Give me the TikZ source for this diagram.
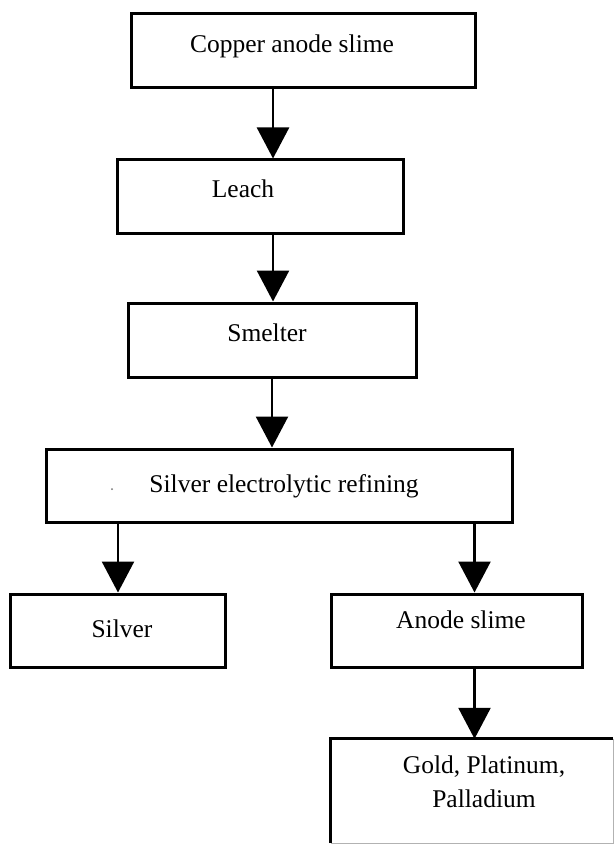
\documentclass[tikz,border=0pt]{standalone}
\usepackage{fontspec}
\setmainfont{Liberation Serif}
\usetikzlibrary{arrows.meta}
\begin{document}
\begin{tikzpicture}[x=1pt,y=-1pt,
  stepbox/.style={draw=black,line width=3pt,rectangle,inner sep=0pt},
  plainbox/.style={rectangle,inner sep=0pt},
  lbl/.style={anchor=base,inner sep=0pt,font=\fontsize{25.5}{30}\selectfont},
  flow/.style={line width=2.5pt,-{Triangle[length=31pt,width=32pt]}}]

\useasboundingbox[fill=white] (0,0) rectangle (615,845);

% process boxes
\node[stepbox,minimum width=344pt,minimum height=74pt] (slime) at (303,51) {};
\node[stepbox,minimum width=286pt,minimum height=73pt] (leach) at (260,196.5) {};
\node[stepbox,minimum width=288pt,minimum height=74pt] (smelter) at (272,340) {};
\node[stepbox,minimum width=466pt,minimum height=73pt] (refine) at (279,485.5) {};
\node[stepbox,minimum width=215pt,minimum height=73pt] (silver) at (117.5,630.5) {};
\node[stepbox,minimum width=251pt,minimum height=73pt] (anode) at (456.5,630.5) {};
\node[plainbox,minimum width=282pt,minimum height=104pt] (metals) at (472,791) {};
\draw[line width=3pt] (metals.south west) -- (metals.north west) -- (metals.north east);
\draw[line width=0.8pt,black!30] (metals.north east) -- (metals.south east) -- (metals.south west);

% labels
\node[lbl] (tslime) at (292,53) {Copper anode slime};
\node[lbl] (tleach) at (243,197) {Leach};
\node[lbl] (tsmelter) at (267,341) {Smelter};
\node[lbl] (trefine) at (284,492) {Silver electrolytic refining};
\node[lbl] (tsilver) at (122,637) {Silver};
\node[lbl] (tanode) at (461,628) {Anode slime};
\node[lbl] (tmetals1) at (484,773) {Gold, Platinum,};
\node[lbl] (tmetals2) at (484,807) {Palladium};
\fill[black!55] (112,489) circle (1pt);

% stem positions
\coordinate (xa) at (273,0);
\coordinate (xb) at (272,0);
\coordinate (xl) at (118,0);
\coordinate (xr) at (474.5,0);

% connectors
\draw[flow] (slime.south -| xa) -- (leach.north -| xa);
\draw[flow] (leach.south -| xa) -- (smelter.north -| xa);
\draw[flow] (smelter.south -| xb) -- (refine.north -| xb);
\draw[flow] (refine.south -| xl) -- (silver.north -| xl);
\draw[flow] (refine.south -| xr) -- (anode.north -| xr);
\draw[flow] (anode.south -| xr) -- (metals.north -| xr);
\end{tikzpicture}
\end{document}
